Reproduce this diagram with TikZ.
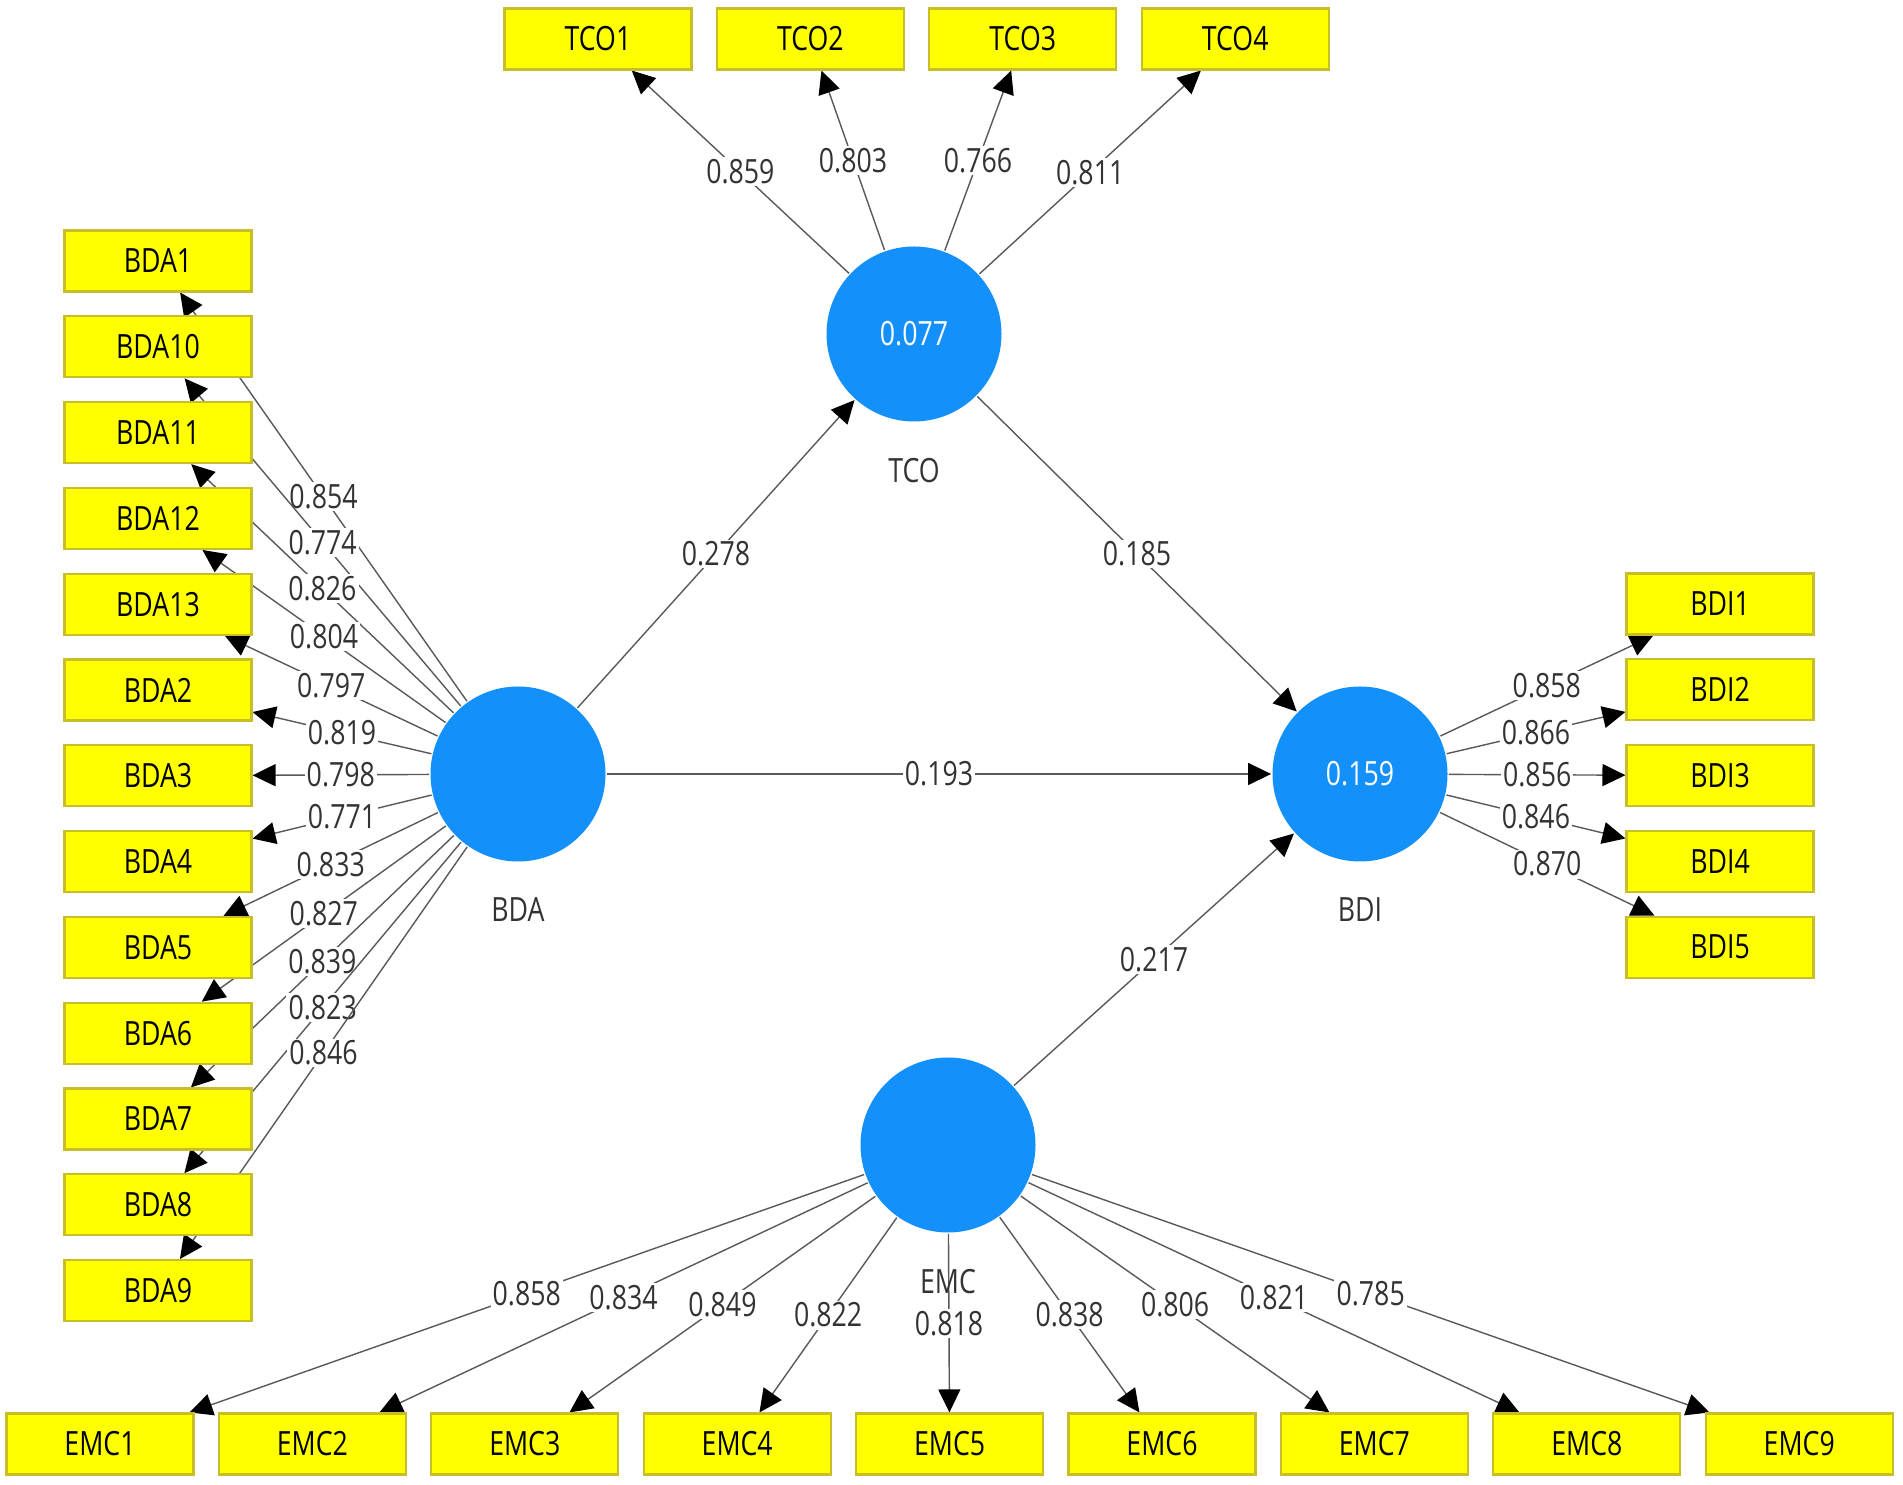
\documentclass[tikz,border=0pt]{standalone}
\usepackage{fontspec}
\setmainfont{Open Sans}[FakeStretch=0.8]
\usetikzlibrary{positioning,arrows.meta,backgrounds}
\definecolor{lvblue}{RGB}{20,144,250}
\definecolor{indyellow}{RGB}{255,255,0}
\definecolor{indedge}{RGB}{200,190,40}
\begin{document}
\begin{tikzpicture}[x=1mm, y=1mm, node distance={8.58mm}, thick,
	every node/.style={font=\fontsize{9.5}{11}\selectfont, text=black!80},
	lv/.style = {circle, fill=lvblue, minimum size=17.5mm, inner sep=0pt, text=white},
	ind/.style = {draw=indedge, semithick, fill=indyellow, minimum width=18.7mm, minimum height=6.1mm, inner sep=0pt, text=black},
	load/.style = {draw=black!65, -{Triangle[length=2.3mm,width=2.2mm,black]}},
	val/.style = {fill=white, inner sep=0.6pt}]
		\useasboundingbox (0,0) rectangle (190.3,148.4);
		
		\node[lv] (TCO) at (91.4,115.0) {0.077};
		\node[lv] (BDA) at (51.8,71.0) {};
		\node[lv] (BDI) at (136.0,71.0) {0.159};
		\node[lv] (EMC) at (94.8,33.9) {};
		\node (TCOname)[below=2.2mm of TCO] {TCO};
		\node (BDAname)[below=2.2mm of BDA] {BDA};
		\node (BDIname)[below=2.2mm of BDI] {BDI};
		\node (EMCname)[below=2.2mm of EMC] {EMC};
		
		\node[ind] (TCO1) at (59.8,144.5) {TCO1};
		\node[ind] (TCO2)[node distance=21.24mm, right of=TCO1] {TCO2};
		\node[ind] (TCO3)[node distance=21.24mm, right of=TCO2] {TCO3};
		\node[ind] (TCO4)[node distance=21.24mm, right of=TCO3] {TCO4};
		
		\node[ind] (BDA1) at (15.8,122.3) {BDA1};
		\node[ind] (BDA10)[below of=BDA1] {BDA10};
		\node[ind] (BDA11)[below of=BDA10] {BDA11};
		\node[ind] (BDA12)[below of=BDA11] {BDA12};
		\node[ind] (BDA13)[below of=BDA12] {BDA13};
		\node[ind] (BDA2)[below of=BDA13] {BDA2};
		\node[ind] (BDA3)[below of=BDA2] {BDA3};
		\node[ind] (BDA4)[below of=BDA3] {BDA4};
		\node[ind] (BDA5)[below of=BDA4] {BDA5};
		\node[ind] (BDA6)[below of=BDA5] {BDA6};
		\node[ind] (BDA7)[below of=BDA6] {BDA7};
		\node[ind] (BDA8)[below of=BDA7] {BDA8};
		\node[ind] (BDA9)[below of=BDA8] {BDA9};
		
		\node[ind] (BDI1) at (172.0,88.0) {BDI1};
		\node[ind] (BDI2)[below of=BDI1] {BDI2};
		\node[ind] (BDI3)[below of=BDI2] {BDI3};
		\node[ind] (BDI4)[below of=BDI3] {BDI4};
		\node[ind] (BDI5)[below of=BDI4] {BDI5};
		
		\node[ind] (EMC1) at (10.0,4.0) {EMC1};
		\node[ind] (EMC2)[node distance=21.24mm, right of=EMC1] {EMC2};
		\node[ind] (EMC3)[node distance=21.24mm, right of=EMC2] {EMC3};
		\node[ind] (EMC4)[node distance=21.24mm, right of=EMC3] {EMC4};
		\node[ind] (EMC5)[node distance=21.24mm, right of=EMC4] {EMC5};
		\node[ind] (EMC6)[node distance=21.24mm, right of=EMC5] {EMC6};
		\node[ind] (EMC7)[node distance=21.24mm, right of=EMC6] {EMC7};
		\node[ind] (EMC8)[node distance=21.24mm, right of=EMC7] {EMC8};
		\node[ind] (EMC9)[node distance=21.24mm, right of=EMC8] {EMC9};
		
		\begin{pgfonlayer}{background}
		\draw[load] (BDA)--node[val]{0.278}(TCO);
		\draw[load] (TCO)--node[val]{0.185}(BDI);
		\draw[load] (BDA)--node[val]{0.193}(BDI);
		\draw[load] (EMC)--node[val]{0.217}(BDI);
		
		\draw[load] (TCO)--node[val]{0.859}(TCO1);
		\draw[load] (TCO)--node[val]{0.803}(TCO2);
		\draw[load] (TCO)--node[val]{0.766}(TCO3);
		\draw[load] (TCO)--node[val]{0.811}(TCO4);
		
		\draw[load] (BDA)--node[val]{0.854}(BDA1);
		\draw[load] (BDA)--node[val]{0.774}(BDA10);
		\draw[load] (BDA)--node[val]{0.826}(BDA11);
		\draw[load] (BDA)--node[val]{0.804}(BDA12);
		\draw[load] (BDA)--node[val]{0.797}(BDA13);
		\draw[load] (BDA)--node[val]{0.819}(BDA2);
		\draw[load] (BDA)--node[val]{0.798}(BDA3);
		\draw[load] (BDA)--node[val]{0.771}(BDA4);
		\draw[load] (BDA)--node[val]{0.833}(BDA5);
		\draw[load] (BDA)--node[val]{0.827}(BDA6);
		\draw[load] (BDA)--node[val]{0.839}(BDA7);
		\draw[load] (BDA)--node[val]{0.823}(BDA8);
		\draw[load] (BDA)--node[val]{0.846}(BDA9);
		
		\draw[load] (BDI)--node[val]{0.858}(BDI1);
		\draw[load] (BDI)--node[val]{0.866}(BDI2);
		\draw[load] (BDI)--node[val]{0.856}(BDI3);
		\draw[load] (BDI)--node[val]{0.846}(BDI4);
		\draw[load] (BDI)--node[val]{0.870}(BDI5);
		
		\draw[load] (EMC)--node[val]{0.858}(EMC1);
		\draw[load] (EMC)--node[val]{0.834}(EMC2);
		\draw[load] (EMC)--node[val]{0.849}(EMC3);
		\draw[load] (EMC)--node[val]{0.822}(EMC4);
		\draw[load] (EMC)--node[val]{0.818}(EMC5);
		\draw[load] (EMC)--node[val]{0.838}(EMC6);
		\draw[load] (EMC)--node[val]{0.806}(EMC7);
		\draw[load] (EMC)--node[val]{0.821}(EMC8);
		\draw[load] (EMC)--node[val]{0.785}(EMC9);
		\end{pgfonlayer}
		
	\end{tikzpicture}
\end{document}
